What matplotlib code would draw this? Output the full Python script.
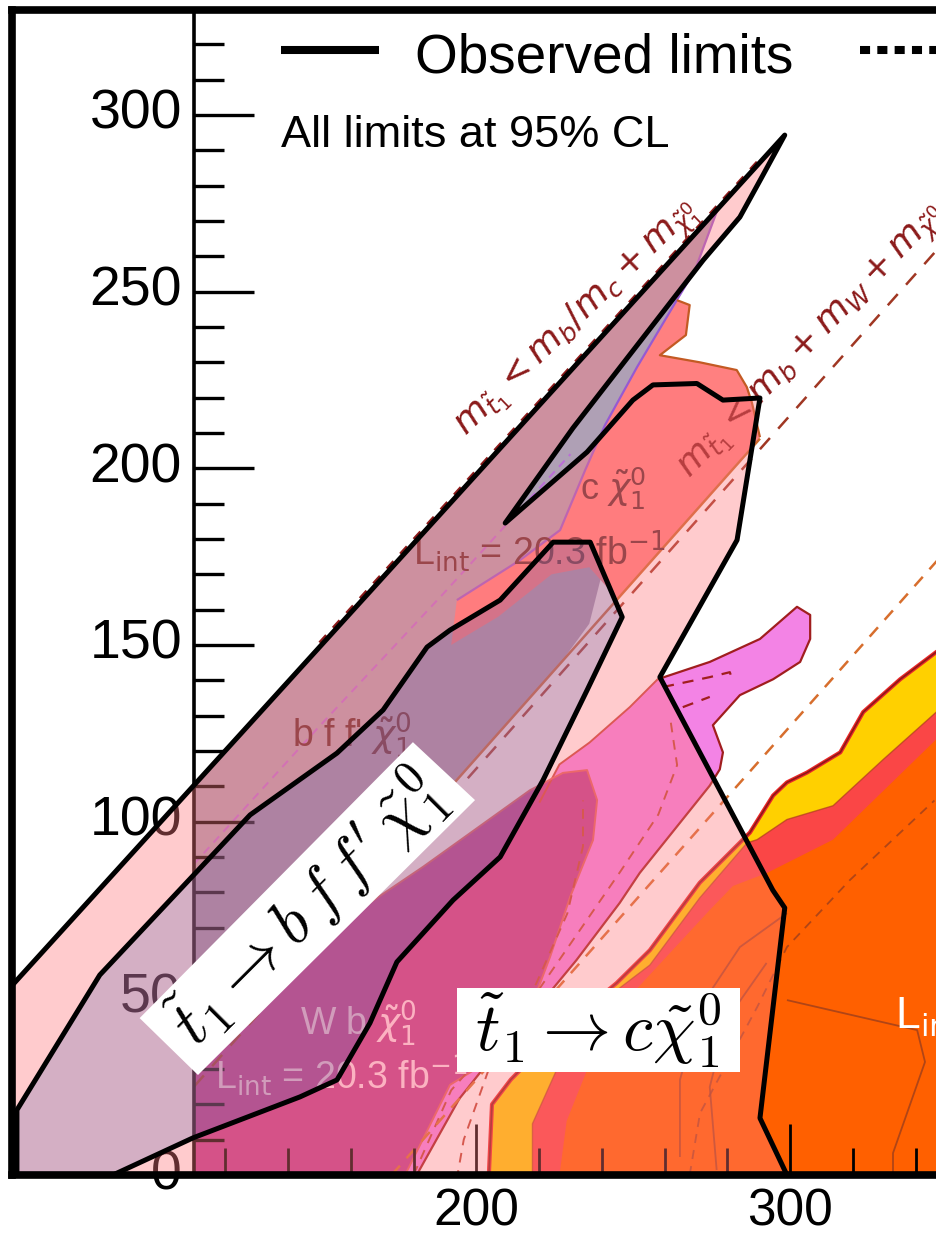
import matplotlib
matplotlib.use("Agg")
import matplotlib.pyplot as plt
from matplotlib.patches import Polygon

plt.rcParams['font.family'] = ['Liberation Sans', 'DejaVu Sans']
plt.rcParams['mathtext.fontset'] = 'dejavusans'

# ---------------------------------------------------------------------------
# Observed exclusion contours, (m_stop, m_neutralino) in GeV
# ---------------------------------------------------------------------------
obs_c_chi = [(51.9, 53.5), (298.3, 294.3), (291.0, 282.4), (284.0, 271.1),
             (272.3, 258.9), (230.8, 211.4), (209.2, 184.5), (235.3, 204.6),
             (249.9, 219.3), (256.3, 223.6), (270.3, 224.0), (278.6, 219.3),
             (290.4, 219.9), (283.1, 179.7), (258.5, 140.9), (294.5, 80.6),
             (298.3, 75.6), (290.4, 16.1), (299.0, 0.0)]
obs_c_chi_corner = (51.9, 0.0)

obs_bffchi = [(53.6, 0.0), (53.6, 18.4), (80.0, 56.6), (127.9, 101.9), (155.6, 119.4),
              (170.3, 131.6), (184.3, 149.4), (191.6, 154.2), (207.6, 162.7),
              (224.5, 179.1), (236.3, 179.1), (246.5, 157.9), (235.3, 137.2),
              (221.3, 111.8), (207.6, 90.0), (192.6, 77.8), (174.7, 60.3),
              (166.1, 43.0), (155.6, 26.9), (143.8, 22.1), (109.7, 10.5), (84.2, 0.0)]

# ---------------------------------------------------------------------------
# Underlying summary regions
# ---------------------------------------------------------------------------
reg_bff = [(110, 110.3), (277, 273.5), (269.7, 256.1), (263.9, 247.6), (251.2, 228.6),
           (241.0, 212.2), (234.7, 199.5), (240, 170), (236, 156), (226.7, 144.7),
           (143.5, 61.5), (110, 44)]

reg_cchi = [(193.8, 162.7), (213.9, 174.0), (226.7, 182.5), (234.7, 199.5), (241.0, 212.2),
            (251.2, 228.6), (263.9, 247.6), (268.0, 246.2), (266.8, 237.7), (258.5, 232.0),
            (271.2, 230.0), (283.0, 227.8), (286.2, 223.0), (287.8, 218.7), (290.4, 208.8),
            (245.0, 163.0), (236.0, 172.0), (224.0, 170.0), (207.0, 158.0), (192.0, 150.0)]
cchi_top_edge = [(263.9, 247.6), (268.0, 246.2), (266.8, 237.7), (258.5, 232.0),
                 (271.2, 230.0), (283.0, 227.8), (286.2, 223.0), (287.8, 218.7), (290.4, 208.8)]
purple_edge = [(193.8, 162.7), (213.9, 174.0), (226.7, 182.5), (234.7, 199.5),
               (241.0, 212.2), (251.2, 228.6), (263.9, 247.6), (269.7, 256.1), (277, 273.5)]

reg_wbchi = [(110, 46.1), (143.8, 63.7), (183.0, 87.2), (217.1, 108.9), (227.6, 113.8),
             (235.3, 114.6), (238.5, 106.1), (237.2, 94.8), (229.9, 78.7), (223.5, 61.7),
             (217.1, 46.7), (204.4, 32.5), (191.6, 25.5), (177.3, 0.0), (110, 0.0)]

reg_wbchi_b = [(220.1, 105.4), (226.5, 116.2), (236.1, 122.4), (248.9, 132.4), (257.8, 140.3),
               (274.4, 145.2), (290.4, 151.7), (302.2, 160.8), (306.4, 158.5), (306.4, 151.7),
               (303.2, 145.2), (294.6, 140.3), (284.0, 135.8), (275.4, 127.3), (278.6, 119.6),
               (277.6, 114.8), (274.4, 110.2), (252.1, 85.5), (245.7, 77.0), (231.9, 60.8),
               (222.4, 50.6), (207.3, 35.8), (194.6, 21.6), (181.0, 0.0), (169.0, 0.0),
               (191.4, 48.6)]
wbchi_b_outline = [(257.8, 140.3), (274.4, 145.2), (290.4, 151.7), (302.2, 160.8),
                   (306.4, 158.5), (306.4, 151.7), (303.2, 145.2), (294.6, 140.3),
                   (284.0, 135.8), (275.4, 127.3), (278.6, 119.6), (277.6, 114.8),
                   (274.4, 110.2), (252.1, 85.5), (245.7, 77.0), (231.9, 60.8),
                   (222.4, 50.6), (207.3, 35.8), (194.6, 21.6), (181.0, 0.0)]
wbchi_b_upper = [(220.1, 105.4), (226.5, 116.2), (236.1, 122.4), (248.9, 132.4), (257.8, 140.3)]

tchi_yellow_top = [(204.0, 0.0), (205.0, 20.0), (211.0, 27.0), (226.5, 41.0), (244.7, 54.3),
                   (255.3, 63.6), (271.2, 82.7), (287.2, 96.9), (294.6, 107.4), (299.0, 111.1),
                   (305.4, 113.9), (316.0, 119.6), (323.3, 131.0), (335.1, 140.3),
                   (346.6, 148.0), (367.0, 160.0)]
tchi_yellow_bottom = [(217.9, 0.0), (217.9, 14.5), (226.5, 31.5), (239.3, 48.6), (255.3, 59.4),
                      (271.2, 78.4), (286.3, 94.0), (289.5, 94.9), (299.0, 100.6),
                      (313.7, 104.5), (329.7, 117.6), (346.6, 131.0), (367.0, 143.0)]
tchi_red_bottom = [(226.5, 0.0), (228.8, 15.3), (236.1, 31.5), (249.8, 51.4), (274.4, 75.0),
                   (281.8, 81.8), (292.7, 85.5), (313.7, 94.9), (346.6, 123.3), (367.0, 134.0)]

# contour lines inside the 2-body region
tchi_contour_a = [(264.9, 5.1), (264.9, 26.9), (271.3, 47.5), (284.0, 64.5), (299.0, 74.1)]
tchi_contour_b = [(276.6, 1.4), (274.4, 24.9), (279.8, 43.9), (292.5, 60.0)]
tchi_contour_c = [(299.0, 49.5), (340.5, 41.0), (343.0, 32.0), (332.8, 6.2), (332.8, 0.0)]
tchi_contour_exp = [(268.0, 0.0), (271.3, 17.5), (289.5, 47.5), (299.0, 64.5), (319.1, 83.5),
                    (346.0, 106.0)]
wbchi_exp_a = [(259.5, 138.1), (274.4, 140.9), (280.8, 142.3), (281.8, 139.5)]
wbchi_exp_b = [(265.8, 132.4), (274.4, 135.3)]
wbchi_exp_c = [(262.0, 128.0), (264.0, 116.0), (258.0, 102.0), (246.0, 86.0), (232.0, 68.0),
               (218.0, 50.0), (204.0, 30.0), (196.0, 10.0), (194.0, 0.0)]
wbchi_exp_d = [(180.0, 0.0), (192.0, 24.0), (206.0, 38.0), (219.0, 54.0), (229.0, 74.0),
               (234.0, 93.0), (234.0, 106.0)]
bff_exp = [(110.0, 88.0), (150.0, 127.0), (190.0, 165.0), (230.0, 204.0)]

# kinematic boundaries (dm = m_stop - m_neutralino)
kin_bc = [(150.0, 150.7), (290.0, 287.3)]
kin_bw = [(110.0, 25.0), (367.0, 282.0)]
kin_t = [(173.0, 0.0), (367.0, 194.0)]
cchi_low_edge = [(150.0, 68.0), (290.4, 208.4)]

# axis ticks of the summary plot
y_major = [0, 50, 100, 150, 200, 250, 300]
y_minor = [v for v in range(0, 330, 10)]
x_major = [200, 300]
x_minor = [v for v in range(120, 367, 20)]
outer_xlabels = [200, 300]

# white backgrounds of the decay-mode labels
box_c_chi = [(193.9, 29.1), (284.0, 29.1), (284.0, 52.9), (193.9, 52.9)]
box_bff = [(92.7, 44.4), (111.3, 28.3), (199.6, 106.1), (179.8, 122.5)]


def rgb(r, g, b):
    return (r / 255, g / 255, b / 255)


def xs(pts):
    return [p[0] for p in pts]


def ys(pts):
    return [p[1] for p in pts]


W, H = 936, 1239
fig = plt.figure(figsize=(W / 100, H / 100), dpi=100)
ax = fig.add_axes([11.5 / W, (H - 1175) / H, (1000 - 11.5) / W, (1175 - 10) / H])
ax.set_xlim(51.87, 366.9)
ax.set_ylim(0, 329.7)
ax.set_xticks([])
ax.set_yticks([])
for sp in ax.spines.values():
    sp.set_linewidth(5.5)
    sp.set_zorder(20)


def fill(pts, color, z, alpha=1.0):
    ax.add_patch(Polygon(pts, closed=True, facecolor=color, edgecolor='none',
                         alpha=alpha, zorder=z))


def line(pts, color, lw, z, dashes=None, alpha=1.0):
    ln, = ax.plot(xs(pts), ys(pts), color=color, lw=lw, zorder=z, alpha=alpha,
                  solid_joinstyle='round', solid_capstyle='butt')
    if dashes is not None:
        ln.set_dashes(dashes)
    return ln


# --- summary regions -------------------------------------------------------
c_lav = rgb(175, 160, 181)
c_salmon = rgb(255, 128, 128)
c_wb = rgb(188, 59, 143)
c_violet = rgb(243, 131, 229)
c_red = rgb(250, 70, 70)
c_yellow = rgb(255, 208, 0)
c_orange = rgb(255, 96, 0)

fill(reg_bff, c_lav, 1.0)
fill(reg_cchi, c_salmon, 1.1)
fill(reg_wbchi_b, c_violet, 1.2)
fill(reg_wbchi, c_wb, 1.3)
fill(tchi_yellow_top + [(367.0, 0.0)], c_red, 1.4)
fill(tchi_yellow_top + tchi_yellow_bottom[::-1], c_yellow, 1.5)
fill(tchi_red_bottom + [(367.0, 0.0)], c_orange, 1.6)

# --- contour lines ---------------------------------------------------------
line(purple_edge, rgb(150, 90, 210), 1.6, 2.0)
line(cchi_top_edge, rgb(195, 90, 35), 1.6, 2.0)
line(cchi_low_edge, rgb(205, 105, 45), 1.8, 2.0)
line(wbchi_b_outline, rgb(160, 30, 30), 1.6, 2.0)
line(wbchi_b_upper, rgb(200, 70, 60), 1.4, 2.0)
line(reg_wbchi[:-1], rgb(225, 95, 95), 1.4, 2.0)
line(tchi_yellow_top, rgb(235, 40, 40), 3.0, 2.0)
line(tchi_yellow_top, rgb(140, 25, 25), 1.2, 2.05)
line(tchi_yellow_bottom, rgb(175, 60, 30), 1.0, 2.0, alpha=0.7)
line(tchi_contour_a, rgb(150, 60, 30), 1.3, 2.0, alpha=0.75)
line(tchi_contour_b, rgb(150, 60, 30), 1.3, 2.0, alpha=0.75)
line(tchi_contour_c, rgb(150, 60, 30), 1.3, 2.0, alpha=0.75)
line(tchi_contour_exp, rgb(150, 60, 30), 1.3, 2.0, dashes=(5, 4), alpha=0.75)
line(wbchi_exp_a, rgb(160, 30, 30), 1.6, 2.0, dashes=(5, 4))
line(wbchi_exp_b, rgb(160, 30, 30), 1.6, 2.0, dashes=(5, 4))
line(wbchi_exp_c, rgb(190, 70, 50), 1.4, 2.0, dashes=(5, 4))
line(wbchi_exp_d, rgb(190, 70, 50), 1.4, 2.0, dashes=(5, 4))
line(bff_exp, rgb(185, 110, 215), 1.5, 2.0, dashes=(4, 3))
line(kin_bc, rgb(140, 26, 26), 1.8, 2.0, dashes=(4, 4))
line(kin_bw, rgb(160, 55, 35), 1.8, 2.0, dashes=(6, 5))
line(kin_t, rgb(215, 110, 45), 1.8, 2.0, dashes=(5, 4))

# --- summary-plot axis (y on the left, minor x ticks at the bottom) -------
ax_col = 'black'
line([(110, 0), (110, 329.7)], ax_col, 2.6, 2.5)
for v in y_minor:
    ln = 19.1 if v in y_major else 9.6
    line([(110, v), (110 + ln, v)], ax_col, 2.4, 2.5)
for v in x_minor:
    ln = 14.5 if v in x_major else 7.5
    line([(v, 0), (v, ln)], ax_col, 2.0, 2.5)
for v in y_major:
    ax.text(106.2, v, str(v), ha='right', va='center', fontsize=40, zorder=2.6)

# --- summary-plot labels ---------------------------------------------------
dark_lbl = rgb(95, 40, 45)
ax.text(233.1, 191.0, r"c $\tilde{\chi}^{0}_{1}$", fontsize=26, color=dark_lbl, zorder=2.7)
ax.text(179.8, 172.6, r"L$_{\mathrm{int}}$ = 20.3 fb$^{-1}$", fontsize=27,
        color=dark_lbl, zorder=2.7)
ax.text(141.3, 121.1, r"b f f' $\tilde{\chi}^{0}_{1}$", fontsize=27, color=dark_lbl,
        zorder=2.7)
ax.text(143.8, 39.6, r"W b $\tilde{\chi}^{0}_{1}$", fontsize=27, color=rgb(250, 215, 235),
        zorder=2.7)
ax.text(116.6, 24.1, r"L$_{\mathrm{int}}$ = 20.3 fb$^{-1}$", fontsize=27,
        color=rgb(250, 215, 235), zorder=2.7)
ax.text(333.5, 41.0, r"L$_{\mathrm{int}}$ = 20.3 fb$^{-1}$", fontsize=32, color='white',
        zorder=2.7)
kin_col = rgb(139, 26, 26)
ax.text(196.5, 209.0, r"$m_{\tilde{t}_1} < m_b/m_c + m_{\tilde{\chi}^0_1}$", fontsize=26,
        color=kin_col, rotation=44, rotation_mode='anchor', ha='left', va='baseline',
        zorder=2.7)
ax.text(268.0, 197.0, r"$m_{\tilde{t}_1} < m_b + m_W + m_{\tilde{\chi}^0_1}$", fontsize=26,
        color=kin_col, rotation=46, rotation_mode='anchor', ha='left', va='baseline',
        zorder=2.7)

# --- observed limits -------------------------------------------------------
fill(obs_c_chi + [obs_c_chi_corner], rgb(255, 120, 125), 4.0, alpha=0.38)
fill(obs_bffchi, rgb(84, 92, 172), 4.1, alpha=0.25)
line(obs_c_chi, 'black', 3.6, 6.0)
line(obs_bffchi, 'black', 3.6, 6.0)

# --- decay-mode labels -----------------------------------------------------
fill(box_c_chi, 'white', 7.0)
fill(box_bff, 'white', 7.0)
ax.text(238.9, 41.0, r"$\tilde{t}_1 \rightarrow c\tilde{\chi}^0_1$", fontsize=49,
        math_fontfamily='cm', ha='center', va='center', zorder=7.5)
ax.text(146.0, 75.3, r"$\tilde{t}_1 \rightarrow b\,f\,f'\,\tilde{\chi}^0_1$", fontsize=47,
        math_fontfamily='cm', ha='center', va='center', rotation=45,
        rotation_mode='anchor', zorder=7.5)

# --- legend ----------------------------------------------------------------
line([(137.9, 318.3), (169.1, 318.3)], 'black', 5.8, 8)
ax.text(180.5, 312.1, "Observed limits", fontsize=39.5, ha='left', va='baseline', zorder=8)
line([(322.3, 318.3), (367.0, 318.3)], 'black', 5.8, 8, dashes=(1.25, 0.9))
ax.text(137.7, 290.9, "All limits at 95% CL", fontsize=32.5, ha='left', va='baseline',
        zorder=8)

# --- outer x-axis labels ---------------------------------------------------
for v in outer_xlabels:
    ax.text(v, -10.5, str(v), ha='center', va='center', fontsize=37, clip_on=False,
            zorder=8)

fig.savefig("out.png", dpi=100)
